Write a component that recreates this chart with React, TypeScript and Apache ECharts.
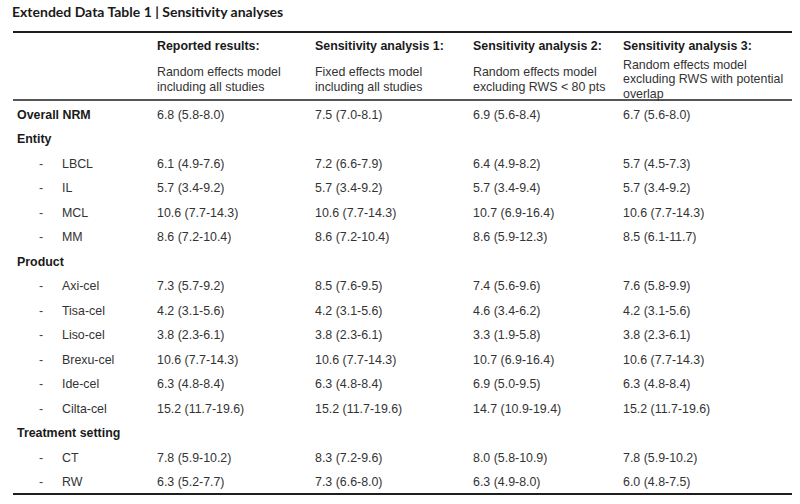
import React, { useEffect, useRef } from "react";
import * as echarts from "echarts";

const title = "Extended Data Table 1 | Sensitivity analyses";
const columnTitles = [
  "Reported results:",
  "Sensitivity analysis 1:",
  "Sensitivity analysis 2:",
  "Sensitivity analysis 3:",
];
const columnSubtitles = [
  ["Random effects model", "including all studies"],
  ["Fixed effects model", "including all studies"],
  ["Random effects model", "excluding RWS < 80 pts"],
  ["Random effects model", "excluding RWS with potential", "overlap"],
];
// row kinds: "main" = bold row with values, "section" = bold heading, "item" = indented sub-row
const rowLabels = [
  "Overall NRM", "Entity", "LBCL", "IL", "MCL", "MM", "Product",
  "Axi-cel", "Tisa-cel", "Liso-cel", "Brexu-cel", "Ide-cel", "Cilta-cel",
  "Treatment setting", "CT", "RW",
];
const rowKinds = [
  "main", "section", "item", "item", "item", "item", "section",
  "item", "item", "item", "item", "item", "item",
  "section", "item", "item",
];
// estimates and 95% CI per column (null for section headings)
const reportedEst = [6.8, null, 6.1, 5.7, 10.6, 8.6, null, 7.3, 4.2, 3.8, 10.6, 6.3, 15.2, null, 7.8, 6.3];
const reportedLo = [5.8, null, 4.9, 3.4, 7.7, 7.2, null, 5.7, 3.1, 2.3, 7.7, 4.8, 11.7, null, 5.9, 5.2];
const reportedHi = [8.0, null, 7.6, 9.2, 14.3, 10.4, null, 9.2, 5.6, 6.1, 14.3, 8.4, 19.6, null, 10.2, 7.7];
const sens1Est = [7.5, null, 7.2, 5.7, 10.6, 8.6, null, 8.5, 4.2, 3.8, 10.6, 6.3, 15.2, null, 8.3, 7.3];
const sens1Lo = [7.0, null, 6.6, 3.4, 7.7, 7.2, null, 7.6, 3.1, 2.3, 7.7, 4.8, 11.7, null, 7.2, 6.6];
const sens1Hi = [8.1, null, 7.9, 9.2, 14.3, 10.4, null, 9.5, 5.6, 6.1, 14.3, 8.4, 19.6, null, 9.6, 8.0];
const sens2Est = [6.9, null, 6.4, 5.7, 10.7, 8.6, null, 7.4, 4.6, 3.3, 10.7, 6.9, 14.7, null, 8.0, 6.3];
const sens2Lo = [5.6, null, 4.9, 3.4, 6.9, 5.9, null, 5.6, 3.4, 1.9, 6.9, 5.0, 10.9, null, 5.8, 4.9];
const sens2Hi = [8.4, null, 8.2, 9.4, 16.4, 12.3, null, 9.6, 6.2, 5.8, 16.4, 9.5, 19.4, null, 10.9, 8.0];
const sens3Est = [6.7, null, 5.7, 5.7, 10.6, 8.5, null, 7.6, 4.2, 3.8, 10.6, 6.3, 15.2, null, 7.8, 6.0];
const sens3Lo = [5.6, null, 4.5, 3.4, 7.7, 6.1, null, 5.8, 3.1, 2.3, 7.7, 4.8, 11.7, null, 5.9, 4.8];
const sens3Hi = [8.0, null, 7.3, 9.2, 14.3, 11.7, null, 9.9, 5.6, 6.1, 14.3, 8.4, 19.6, null, 10.2, 7.5];

const FONT = "'Liberation Sans', Arial, sans-serif";

export default function App() {
  const ref = useRef<HTMLDivElement>(null);
  useEffect(() => {
    document.body.style.margin = "0";
    if (!ref.current) return;
    const chart = echarts.init(ref.current, null, { renderer: "svg" });

    const colX = [157, 315, 473, 623];
    const cols = [
      [reportedEst, reportedLo, reportedHi],
      [sens1Est, sens1Lo, sens1Hi],
      [sens2Est, sens2Lo, sens2Hi],
      [sens3Est, sens3Lo, sens3Hi],
    ];
    const rowY0 = 114.5;
    const rowStep = 24.5;
    const fs = 12.4;
    const elements: any[] = [];

    elements.push({
      type: "text",
      left: 12,
      top: 4,
      style: {
        text: title,
        font: "bold 14px Lato, 'Open Sans', sans-serif",
        fill: "#1a1a1a",
      },
    });

    const hline = (y: number, w: number) => ({
      type: "line",
      shape: { x1: 13, y1: y, x2: 792, y2: y },
      style: { stroke: "#1e1e1e", lineWidth: w },
    });
    elements.push(hline(32, 2));
    elements.push(hline(100, 1.6));
    elements.push(hline(494, 2));

    columnTitles.forEach((t, i) => {
      elements.push({
        type: "text",
        x: colX[i],
        y: 45.5,
        style: {
          text: t,
          font: `bold ${fs}px ${FONT}`,
          fill: "#1a1a1a",
          textVerticalAlign: "middle",
        },
      });
      const subs = columnSubtitles[i];
      const startY = subs.length === 3 ? 64.5 : 72;
      subs.forEach((s, j) => {
        elements.push({
          type: "text",
          x: colX[i],
          y: startY + j * 14.8,
          style: {
            text: s,
            font: `${fs}px ${FONT}`,
            fill: "#333",
            textVerticalAlign: "middle",
          },
        });
      });
    });

    rowLabels.forEach((label, r) => {
      const y = rowY0 + r * rowStep;
      const kind = rowKinds[r];
      if (kind === "item") {
        elements.push({
          type: "text",
          x: 39,
          y,
          style: { text: "-", font: `${fs}px ${FONT}`, fill: "#444", textVerticalAlign: "middle" },
        });
        elements.push({
          type: "text",
          x: 62,
          y,
          style: { text: label, font: `${fs}px ${FONT}`, fill: "#333", textVerticalAlign: "middle" },
        });
      } else {
        elements.push({
          type: "text",
          x: 17,
          y,
          style: { text: label, font: `bold ${fs}px ${FONT}`, fill: "#1a1a1a", textVerticalAlign: "middle" },
        });
      }
      cols.forEach((c, ci) => {
        const est = c[0][r];
        if (est == null) return;
        const txt = `${est.toFixed(1)} (${(c[1][r] as number).toFixed(1)}-${(c[2][r] as number).toFixed(1)})`;
        elements.push({
          type: "text",
          x: colX[ci],
          y,
          style: { text: txt, font: `${fs}px ${FONT}`, fill: "#333", textVerticalAlign: "middle" },
        });
      });
    });

    chart.setOption({
      animation: false,
      backgroundColor: "#ffffff",
      graphic: { elements },
    });
    return () => chart.dispose();
  }, []);
  return <div ref={ref} style={{ width: 800, height: 504 }} />;
}
